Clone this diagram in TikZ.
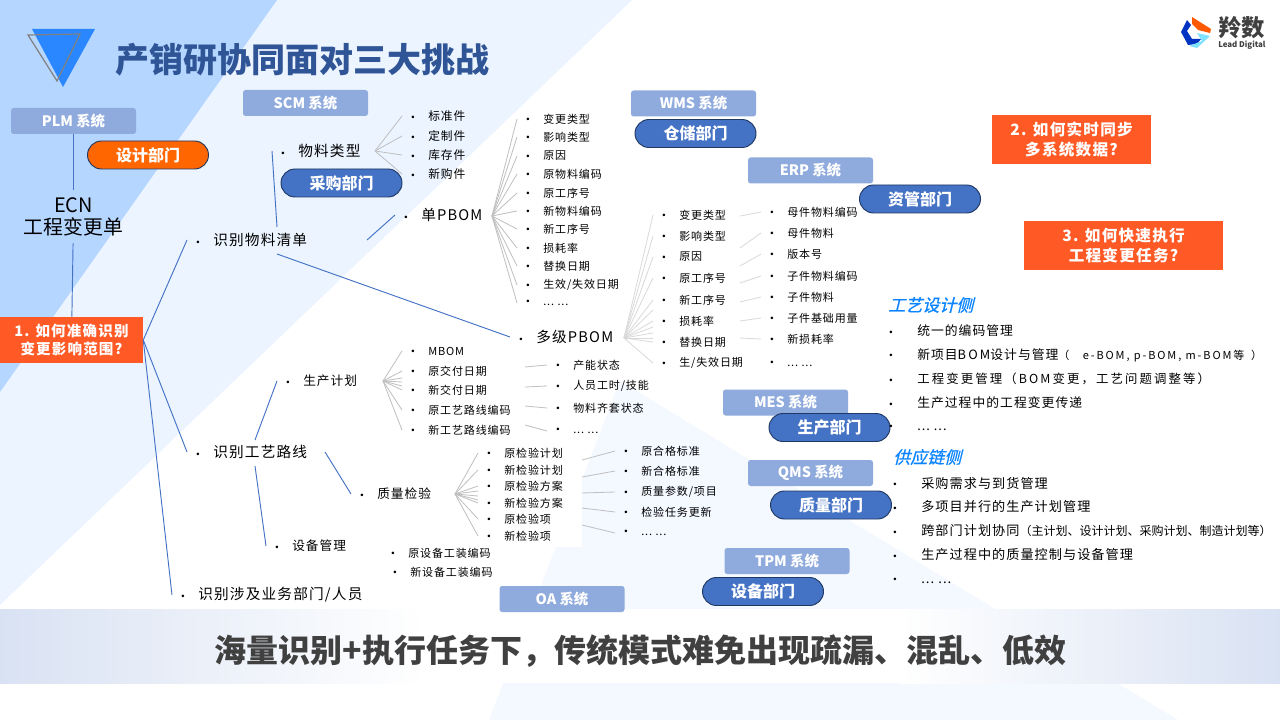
\documentclass[tikz,border=0pt]{standalone}
\usepackage{fontspec}
\setmainfont{Noto Sans CJK SC}[LetterSpace=8]
\newfontfamily\headfont{Noto Sans CJK SC}
\newfontfamily\widefont{Noto Sans CJK SC}[LetterSpace=17]
\newfontfamily\slantfont{Noto Sans CJK SC}[FakeSlant=0.25,FakeBold=0.8]
\newfontfamily\bltfont{Liberation Sans}
\usetikzlibrary{calc,positioning,shapes.misc}

\definecolor{palesky}{HTML}{EBF4FF}
\definecolor{deepsky}{HTML}{B5D6FF}
\definecolor{palefoot}{HTML}{F4F8FF}
\definecolor{bandblue}{HTML}{D9E2F3}
\definecolor{sysblue}{HTML}{8FAADC}
\definecolor{deptblue}{HTML}{4472C4}
\definecolor{deptedge}{HTML}{203864}
\definecolor{deptorange}{HTML}{FF6600}
\definecolor{alertred}{HTML}{FF5A26}
\definecolor{titleblue}{HTML}{2F5597}
\definecolor{sidehead}{HTML}{0A84FF}
\definecolor{markblue}{HTML}{2B87FF}

\newcommand{\blt}{\makebox[12.75pt][l]{\raisebox{0.3pt}{\bltfont\fontsize{7}{7}\selectfont •}}}
\newcommand{\sideblt}{\makebox[21pt][l]{\raisebox{0.3pt}{\bltfont\fontsize{7}{7}\selectfont •}}}
\newcommand{\moredots}{...\ ...}

\tikzset{
    item/.style={anchor=west, inner ysep=0pt, inner xsep=6.75pt, execute at begin node=\blt, font=\fontsize{8.25}{10}\selectfont},
    itemmid/.style={item, font=\fontsize{9.5}{12}\selectfont},
    itemtop/.style={item, font=\fontsize{11}{13}\selectfont},
    sideitem/.style={anchor=west, inner sep=0pt, execute at begin node=\sideblt, font=\fontsize{9.6}{12}\selectfont},
    sidetitle/.style={anchor=west, inner sep=0pt, text=sidehead, font=\slantfont\fontsize{12.75}{15}\selectfont},
    sysbox/.style={fill=sysblue, rounded corners=2pt, minimum width=93.75pt, minimum height=19.5pt, inner sep=0pt, text=white, font=\headfont\bfseries\fontsize{10.8}{12}\selectfont},
    deptpill/.style={draw=deptedge, line width=0.7pt, fill=deptblue, rounded rectangle, minimum width=90.75pt, minimum height=21pt, inner sep=0pt, text=white, font=\headfont\bfseries\fontsize{12}{14}\selectfont},
    alertbox/.style={fill=alertred, inner sep=0pt, text=white, align=center, font=\bfseries\fontsize{10.9}{14}\selectfont},
    blueline/.style={deptblue, line width=0.7pt},
    fanline/.style={gray!50, line width=0.6pt},
    fanlight/.style={gray!30, line width=0.6pt}
}

\begin{document}
\begin{tikzpicture}[x=0.75pt,y=-0.75pt]
    \useasboundingbox (0,0) rectangle (1280,720);

    % --- Background ---
    \fill[white] (0,0) rectangle (1280,720);
    \fill[palesky] (0,0) -- (632,0) -- (0,605) -- cycle;
    \fill[deepsky] (0,0) -- (277,0) -- (0,392) -- cycle;
    \fill[palefoot] (620,381) -- (1178,720) -- (489,720) -- cycle;
    \fill[white] (470,445) rectangle (582,547);

    % --- Title and logo ---
    \fill[markblue] (32,29) -- (95,29) -- (63,87) -- cycle;
    \draw[gray, line width=0.9pt] (28,35) -- (80,34) -- (57,81) -- cycle;
    \node[anchor=west, inner sep=0pt, text=titleblue, font=\headfont\bfseries\fontsize{25.5}{28}\selectfont] (title) at (115.5,60) {产销研协同面对三大挑战};
    \fill[blue!70!black!80!cyan] (1187,20) -- (1181,32) -- (1188,45) -- (1197,44) -- (1201,39) -- (1192,39) -- (1187,31) -- (1191,25) -- cycle;
    \fill[orange!70!red] (1192,17) -- (1211,29) -- (1210,33) -- (1198,30) -- (1192,24) -- cycle;
    \fill[deepsky!70!cyan] (1210,36) -- (1197,48) -- (1189,46) -- (1202,41) -- (1197,33) -- cycle;
    \node[anchor=west, inner sep=0pt, text=black!75, font=\headfont\bfseries\fontsize{17.5}{20}\selectfont] (logoname) at (1218,28) {羚数};
    \node[anchor=west, inner sep=0pt, text=black!75, font=\headfont\bfseries\fontsize{5.9}{8}\selectfont] (logotag) at (1218,45.5) {Lead Digital};

    % --- Root ---
    \node[alertbox, minimum width=107.25pt, minimum height=34.5pt] (qone) at (71.5,340) {1. 如何准确识别\hspace{3pt}\\变更影响范围?\hspace{8pt}};
    \node[sysbox] (plm) at (73.5,121) {PLM 系统};
    \node[align=center, inner sep=0pt, minimum height=39.75pt, font=\headfont\fontsize{14.9}{16.5}\selectfont] (ecn) at (73.5,216.5) {ECN\\工程变更单};
    \draw[blueline] (plm) -- (ecn);
    \draw[blueline] (ecn) -- (qone);

    % --- First level ---
    \node[itemtop] (bomid) at (187,240) {识别物料清单};
    \node[itemtop] (routeid) at (187,452) {识别工艺路线};
    \node[itemtop] (deptid) at (172,595) {识别涉及业务部门/人员};
    \draw[blueline] (qone.east) -- (bomid.west);
    \draw[blueline] (qone.east) -- (routeid.west);
    \draw[blueline] (qone.east) -- (deptid.west);

    % --- Second level ---
    \node[itemtop] (mattype) at (272,151) {物料类型};
    \node[itemtop] (single) at (395,215) {单PBOM};
    \node[itemtop] (multi) at (510,337) {多级PBOM};
    \node[itemmid] (plan) at (277,381) {生产计划};
    \node[itemmid] (qual) at (351,494) {质量检验};
    \node[itemmid] (equip) at (266,546) {设备管理};
    \coordinate (bomtop) at (277,227);
    \coordinate (bomstub) at (277,254);
    \coordinate (bomright) at (367,240);
    \coordinate (routetop) at (255,440);
    \coordinate (routelow) at (255,466);
    \coordinate (routeright) at (325,452);
    \draw[blueline] (bomtop) -- (mattype.west);
    \draw[blueline] (bomright) -- (single.west);
    \draw[blueline] (bomstub) -- (multi.west);
    \draw[blueline] (routetop) -- (plan.west);
    \draw[blueline] (routelow) -- (equip.west);
    \draw[blueline] (routeright) -- (qual.west);

    % --- Fans ---
    \coordinate (matfan) at (375,151);
    \coordinate (singlefan) at (492,216);
    \coordinate (multifan) at (624,338);
    \coordinate (planfan) at (383,381);
    \coordinate (qualfan) at (455,494);

    \foreach \yy/\lbl [count=\i] in {116/标准件,136/定制件,155/库存件,174/新购件}
    {
        \node[item, font=\fontsize{8.8}{10}\selectfont] (mat\i) at (402,\yy) {\lbl};
        \draw[fanline] (matfan) -- (mat\i.west);
    }
    \foreach \yy/\lbl [count=\i] in {119/变更类型,137/影响类型,156/原因,174/原物料编码,193/原工序号,211/新物料编码,229/新工序号,248/损耗率,266/替换日期,285/{生效/失效日期},303/\moredots}
    {
        \node[item] (sgl\i) at (517,\yy) {\lbl};
        \draw[fanline] (singlefan) -- (sgl\i.west);
    }
    \foreach \yy/\lbl [count=\i] in {215/变更类型,236/影响类型,257/原因,278/原工序号,300/新工序号,321/损耗率,342/替换日期,363/{生/失效日期}}
    {
        \node[item] (mul\i) at (653,\yy) {\lbl};
        \draw[fanlight] (multifan) -- (mul\i.west);
    }
    \foreach \yy [count=\i] in {310,327,333,338}
    {
        \coordinate (mulx\i) at (653,\yy);
        \draw[fanlight] (multifan) -- (mulx\i);
    }
    \foreach \yy/\lbl [count=\i] in {212/母件物料编码,233/母件物料,254/版本号,276/子件物料编码,297/子件物料,318/子件基础用量,339/新损耗率,364/\moredots}
    {
        \node[item] (erp\i) at (761,\yy) {\lbl};
    }
    \foreach \yy/\src [count=\i] in {216/1,248/2,266/3,283/4,302/5,321/6,338/7}
    {
        \coordinate (erpl\i) at (740,\yy);
        \draw[fanlight] (erpl\i) -- (erp\src.west);
    }
    \foreach \yy/\lbl [count=\i] in {351/MBOM,371/原交付日期,390/新交付日期,410/原工艺路线编码,430/新工艺路线编码}
    {
        \node[item] (pln\i) at (402,\yy) {\lbl};
        \draw[fanline] (planfan) -- (pln\i.west);
    }
    \foreach \yy [count=\i] in {378,382,386}
    {
        \coordinate (plnx\i) at (402,\yy);
        \draw[fanline] (planfan) -- (plnx\i);
    }
    \foreach \yy/\st/\lbl [count=\i] in {365/367/产能状态,386/387/{人员工时/技能},408/406/物料齐套状态,431/425/\moredots}
    {
        \node[item] (cap\i) at (547,\yy) {\lbl};
        \coordinate (capl\i) at (525,\st);
        \draw[fanline] (capl\i) -- (cap\i.west);
    }
    \foreach \yy/\lbl [count=\i] in {453/原检验计划,470/新检验计划,486/原检验方案,503/新检验方案,519/原检验项,536/新检验项}
    {
        \node[item] (qua\i) at (478,\yy) {\lbl};
        \draw[fanline] (qualfan) -- (qua\i.west);
    }
    \foreach \yy [count=\i] in {491,496,500}
    {
        \coordinate (quax\i) at (478,\yy);
        \draw[fanline] (qualfan) -- (quax\i);
    }
    \foreach \yy/\st/\lbl [count=\i] in {451/460/原合格标准,471/477/新合格标准,492/493/{质量参数/项目},512/508/检验任务更新,533/525/\moredots}
    {
        \node[item] (std\i) at (615,\yy) {\lbl};
        \coordinate (stdl\i) at (582,\st);
        \draw[fanline] (stdl\i) -- (std\i.west);
    }
    \node[item] (tool1) at (382,553) {原设备工装编码};
    \node[item] (tool2) at (384,572) {新设备工装编码};

    % --- Systems ---
    \node[sysbox] (scm) at (305.5,103) {SCM 系统};
    \node[sysbox] (wms) at (693.5,103.5) {WMS 系统};
    \node[sysbox] (erp) at (810.5,170.5) {ERP 系统};
    \node[sysbox] (mes) at (785.5,402.5) {MES 系统};
    \node[sysbox] (qms) at (810.5,473) {QMS 系统};
    \node[sysbox] (tpm) at (787,561) {TPM 系统};

    % --- Departments ---
    \node[deptpill, fill=deptorange] (design) at (148,155) {设计部门};
    \node[deptpill] (purchase) at (341.5,183) {采购部门};
    \node[deptpill] (store) at (695.5,133.5) {仓储部门};
    \node[deptpill] (asset) at (920,199) {资管部门};
    \node[deptpill] (prod) at (829.5,427.5) {生产部门};
    \node[deptpill] (quality) at (831,505) {质量部门};
    \node[deptpill] (device) at (763,591.5) {设备部门};

    % --- Challenges ---
    \node[alertbox, minimum width=119.25pt, minimum height=36.75pt, font=\bfseries\fontsize{11.7}{14.5}\selectfont] (qtwo) at (1071.5,139.5) {2. 如何实时同步\\多系统数据?};
    \node[alertbox, minimum width=149.25pt, minimum height=36.75pt, font=\bfseries\fontsize{11.7}{14.5}\selectfont] (qthree) at (1123.5,245.5) {3. 如何快速执行\\工程变更任务?};

    % --- Right side lists ---
    \node[sidetitle] (designside) at (888,305) {工艺设计侧};
    \foreach \yy/\lbl [count=\i] in {331/统一的编码管理,355/{新项目{\widefont BOM}设计与管理{\widefont\fontsize{8.25}{10}\selectfont（\hspace{10pt}e-BOM, p-BOM, m-BOM等\hspace{5pt}）}},379/{\widefont\fontsize{9.3}{12}\selectfont 工程变更管理（BOM变更，工艺问题调整等）},403/生产过程中的工程变更传递,428/\moredots}
    {
        \node[sideitem] (dsn\i) at (889,\yy) {\lbl};
    }
    \node[sidetitle] (supplyside) at (893,457) {供应链侧};
    \foreach \yy/\lbl [count=\i] in {483/采购需求与到货管理,507/多项目并行的生产计划管理,531/{跨部门计划协同{\headfont\fontsize{9}{10}\selectfont（主计划、设计计划、采购计划、制造计划等）}},555/生产过程中的质量控制与设备管理,581/\moredots}
    {
        \node[sideitem, font=\fontsize{9.85}{12}\selectfont] (sup\i) at (893,\yy) {\lbl};
    }

    % --- Bottom band ---
    \shade[left color=bandblue, right color=white] (0,609) rectangle (425,683);
    \fill[white] (425,609) rectangle (900,683);
    \shade[left color=white, right color=bandblue] (900,609) rectangle (1280,683);
    \node[sysbox] (oa) at (562,599) {OA 系统};
    \node[inner sep=0pt, text=black!75, font=\headfont\bfseries\fontsize{24}{28}\selectfont] (summary) at (640.5,651) {海量识别+执行任务下，传统模式难免出现疏漏、混乱、低效};
\end{tikzpicture}
\end{document}
